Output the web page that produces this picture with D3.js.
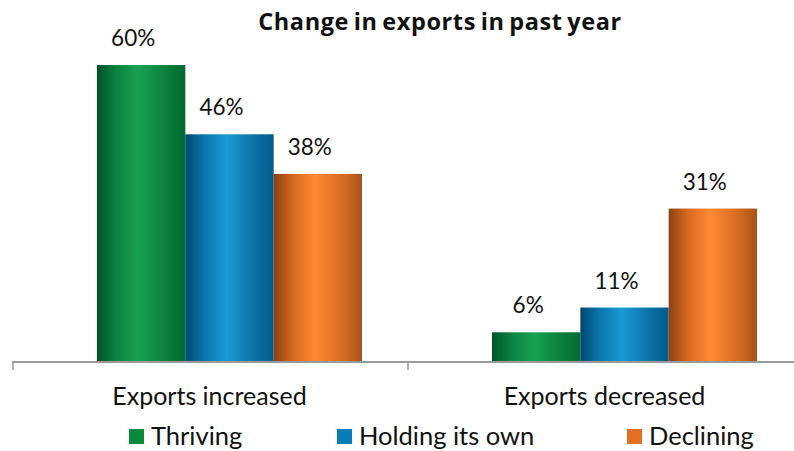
<!DOCTYPE html>
<html>
<head>
<meta charset="utf-8">
<script src="https://cdn.jsdelivr.net/npm/d3@7"></script>
<style>
  html, body { margin: 0; padding: 0; background: #fff; }
  svg { display: block; }
  text { font-family: "Lato", "Noto Sans", sans-serif; fill: #111; }
  .title { font-family: "Open Sans", "Noto Sans", sans-serif; font-weight: bold; }
</style>
</head>
<body>
<svg id="chart" width="794" height="451"></svg>
<script>
// Categories, series and values (percent of respondents)
const categories = ["Exports increased", "Exports decreased"];
const series = ["Thriving", "Holding its own", "Declining"];
const thriving = [60, 6];
const holdingItsOwn = [46, 11];
const declining = [38, 31];
const seriesValues = [thriving, holdingItsOwn, declining];
const title = "Change in exports in past year";

const W = 794, H = 451;
const svg = d3.select("#chart");

// Cylinder-like shading for each series: [dark edge, mid, highlight, mid, dark edge]
const shades = {
  "Thriving":        ["#00532a", "#0c8240", "#18a152", "#0a7d3b", "#006a31"],
  "Holding its own": ["#00476f", "#0a76ae", "#1a9ad6", "#0a6fa2", "#005b8b"],
  "Declining":       ["#8a4214", "#d8691f", "#ff8a33", "#d46a22", "#a65318"]
};
const swatch = { "Thriving": "#0b8a3c", "Holding its own": "#0a7db6", "Declining": "#e46f22" };

const defs = svg.append("defs");
series.forEach((s, i) => {
  const g = defs.append("linearGradient")
    .attr("id", "grad" + i).attr("x1", "0").attr("x2", "1").attr("y1", "0").attr("y2", "0");
  const stops = [0, 0.22, 0.47, 0.8, 1];
  stops.forEach((o, k) => g.append("stop").attr("offset", o).attr("stop-color", shades[s][k]));
});

// Scales
const baseline = 362;
const y = d3.scaleLinear().domain([0, 70]).range([baseline, 15.5]);
const x0 = d3.scaleBand().domain(categories).range([13, 803]).padding(0);
const x1 = d3.scaleBand().domain(series).range([84, 349]).padding(0);

// Title
svg.append("text")
  .attr("class", "title")
  .attr("x", 440).attr("y", 29.5)
  .attr("text-anchor", "middle")
  .style("font-size", "23.5px")
  .style("letter-spacing", "0.6px")
  .style("word-spacing", "-2px")
  .text(title);

// Bars
const rows = [];
categories.forEach((c, ci) => series.forEach((s, si) => rows.push({ c, s, si, v: seriesValues[si][ci] })));

const bars = svg.append("g");
bars.selectAll("rect").data(rows).join("rect")
  .attr("x", d => x0(d.c) + x1(d.s))
  .attr("y", d => y(d.v))
  .attr("width", x1.bandwidth())
  .attr("height", d => baseline - y(d.v))
  .attr("fill", d => "url(#grad" + d.si + ")");

// Value labels
svg.append("g").selectAll("text").data(rows).join("text")
  .attr("x", d => x0(d.c) + x1(d.s) + x1.bandwidth() / 2 - 8)
  .attr("y", d => y(d.v) - 19)
  .attr("text-anchor", "middle")
  .style("font-size", "22.5px")
  .text(d => d.v + "%");

// Category axis
const axisG = svg.append("g").attr("transform", `translate(0,${baseline})`);
axisG.append("line")
  .attr("x1", x0.range()[0] - 1).attr("x2", W)
  .attr("stroke", "#9a9a9a").attr("stroke-width", 2);
const edges = categories.map(c => x0(c)).concat([x0.range()[1]]);
axisG.selectAll(".tick").data(edges).join("line")
  .attr("class", "tick")
  .attr("x1", d => d).attr("x2", d => d)
  .attr("y1", 0).attr("y2", 8)
  .attr("stroke", "#9a9a9a").attr("stroke-width", 1.5);
axisG.selectAll(".cat").data(categories).join("text")
  .attr("class", "cat")
  .attr("x", d => x0(d) + x0.bandwidth() / 2 - 1)
  .attr("y", 43)
  .attr("text-anchor", "middle")
  .style("font-size", "25px")
  .text(d => d);

// Legend
const legendX = [129, 337, 627];
const legend = svg.append("g").selectAll("g").data(series).join("g")
  .attr("transform", (d, i) => `translate(${legendX[i]},429)`);
legend.append("rect").attr("width", 15).attr("height", 15).attr("fill", d => swatch[d]);
legend.append("text").attr("x", 22).attr("y", 15.5).style("font-size", "25.5px").text(d => d);
</script>
</body>
</html>
